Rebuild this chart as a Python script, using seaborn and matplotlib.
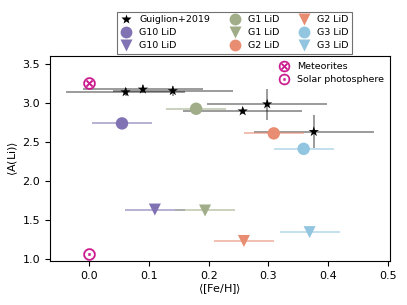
import matplotlib
matplotlib.use("Agg")
import matplotlib.pyplot as plt
from matplotlib.lines import Line2D
import seaborn as sns
import pandas as pd

# Guiglion+2019
gui_feh = [0.061, 0.090, 0.140, 0.257, 0.298, 0.376]
gui_ali = [3.14, 3.175, 3.155, 2.895, 2.985, 2.63]
gui_xerr = [0.10, 0.10, 0.10, 0.10, 0.10, 0.10]
gui_yerr = [0.05, 0.05, 0.06, 0.04, 0.20, 0.21]

# cluster LiD means (circles / triangles)
groups = ["G10 LiD", "G1 LiD", "G2 LiD", "G3 LiD"]
circ_feh = [0.055, 0.179, 0.309, 0.359]
circ_ali = [2.737, 2.925, 2.609, 2.41]
tri_feh = [0.110, 0.194, 0.259, 0.369]
tri_ali = [1.63, 1.618, 1.226, 1.34]
feh_err = [0.05, 0.05, 0.05, 0.05]
colors = ["#8172B3", "#A0AD88", "#E88C72", "#92C5DF"]

# reference values
met_feh, met_ali = 0.0, 3.26
sun_feh, sun_ali = 0.0, 1.055
ref_color = "#C8138A"

fig = plt.figure(figsize=(4.07, 3.05), dpi=100)
ax = fig.add_axes([50/407, 1-261/305, 340/407, 205/305])

# error bars
ax.errorbar(gui_feh, gui_ali, xerr=gui_xerr, yerr=gui_yerr, fmt="none",
            ecolor="k", alpha=0.5, lw=1.1, zorder=1)
for i in range(len(groups)):
    ax.errorbar(circ_feh[i], circ_ali[i], xerr=feh_err[i], fmt="none",
                ecolor=colors[i], alpha=0.7, lw=1.1, zorder=1)
    ax.errorbar(tri_feh[i], tri_ali[i], xerr=feh_err[i], fmt="none",
                ecolor=colors[i], alpha=0.7, lw=1.1, zorder=1)

df_c = pd.DataFrame({"feh": circ_feh, "ali": circ_ali, "g": groups})
df_t = pd.DataFrame({"feh": tri_feh, "ali": tri_ali, "g": groups})
pal = dict(zip(groups, colors))
sns.scatterplot(data=df_c, x="feh", y="ali", hue="g", palette=pal, marker="o",
                s=80, edgecolor="none", legend=False, ax=ax, zorder=3)
sns.scatterplot(data=df_t, x="feh", y="ali", hue="g", palette=pal, marker="v",
                s=75, edgecolor="none", legend=False, ax=ax, zorder=3)
sns.scatterplot(x=gui_feh, y=gui_ali, color="k", marker="*", s=60,
                edgecolor="none", legend=False, ax=ax, zorder=4)

ax.scatter([met_feh], [met_ali], marker=r"$\otimes$", s=75, color=ref_color, lw=0.3, zorder=5)
ax.scatter([sun_feh], [sun_ali], marker=r"$\odot$", s=75, color=ref_color, lw=0.3, zorder=5)

ax.set_xlim(-0.0655, 0.5035)
ax.set_ylim(0.969, 3.603)
ax.set_xticks([0.0, 0.1, 0.2, 0.3, 0.4, 0.5])
ax.set_yticks([1.0, 1.5, 2.0, 2.5, 3.0, 3.5])
ax.tick_params(labelsize=8, length=3.5)
ax.set_xlabel(r"$\langle$[Fe/H]$\rangle$", fontsize=8, labelpad=1)
ax.set_ylabel(r"$\langle$A(Li)$\rangle$", fontsize=8, labelpad=2)

# top legend
h = [Line2D([], [], ls="none", marker="*", color="k", ms=7, mec="none", label="Guiglion+2019")]
for i, gname in enumerate(groups):
    h.append(Line2D([], [], ls="none", marker="o", color=colors[i], ms=8.5, mec="none", label=gname))
    h.append(Line2D([], [], ls="none", marker="v", color=colors[i], ms=8.5, mec="none", label=gname))
leg1 = ax.legend(handles=h, ncol=3, loc="lower center", bbox_to_anchor=(0.543, 1.012),
                 fontsize=6.8, frameon=True, fancybox=False, edgecolor="0.3",
                 borderpad=0.35, labelspacing=0.42, handletextpad=0.8,
                 columnspacing=2.0, handlelength=1.2, borderaxespad=0)
leg1.get_frame().set_linewidth(0.8)
ax.add_artist(leg1)

h2 = [Line2D([], [], ls="none", marker=r"$\otimes$", color=ref_color, ms=8, mew=0.3, label="Meteorites"),
      Line2D([], [], ls="none", marker=r"$\odot$", color=ref_color, ms=8, mew=0.3, label="Solar photosphere")]
ax.legend(handles=h2, loc="upper right", fontsize=6.8, frameon=False,
          handletextpad=0.4, labelspacing=0.45, borderaxespad=0.25)

fig.savefig("out.png", dpi=100)
